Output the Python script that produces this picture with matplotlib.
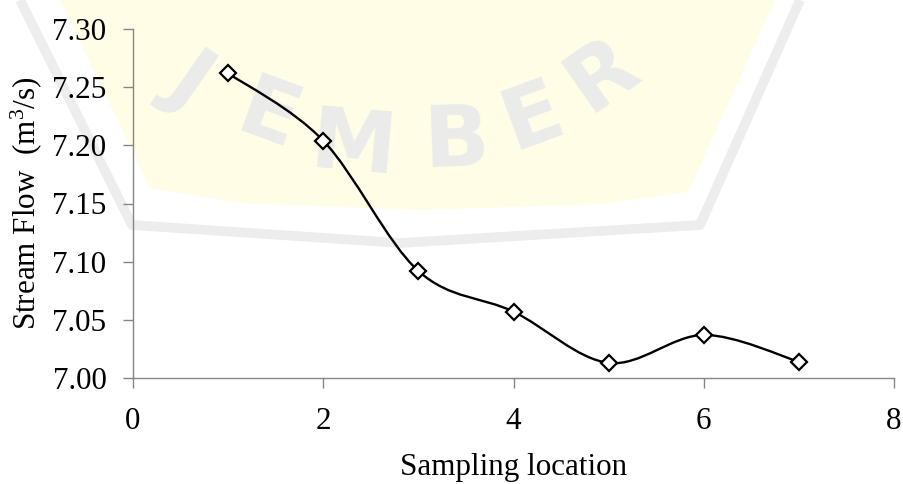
import numpy as np
import matplotlib.pyplot as plt
from matplotlib.path import Path
from matplotlib.patches import PathPatch, Polygon

location = [1, 2, 3, 4, 5, 6, 7]
flow = [7.262, 7.204, 7.092, 7.057, 7.013, 7.037, 7.014]

x_ticks = [0, 2, 4, 6, 8]
y_ticks = [7.00, 7.05, 7.10, 7.15, 7.20, 7.25, 7.30]

W, H = 904, 484
FS = 22.4
plt.rcParams['font.family'] = ['Liberation Serif', 'DejaVu Serif']
plt.rcParams['mathtext.fontset'] = 'custom'
plt.rcParams['mathtext.rm'] = 'Liberation Serif'

fig = plt.figure(figsize=(W / 100, H / 100), dpi=100)


def px(pts):
    # pixel coords (top-left origin) -> figure fraction
    return [(a / W, 1 - b / H) for a, b in pts]


# faint watermark (pale shield + letters) behind the chart
shield = [(60, 0), (775, 0), (688, 192), (600, 204), (420, 210), (240, 203), (150, 188)]
fig.patches.append(Polygon(px(shield), closed=True, transform=fig.transFigure,
                           facecolor='#fffde6', edgecolor='none', zorder=0))
band = [(20, 0), (132, 225), (400, 243), (700, 225), (800, 0)]
xs, ys = zip(*px(band))
fig.add_artist(plt.Line2D(xs, ys, transform=fig.transFigure, color='#ededed',
                          lw=7, zorder=0.1, solid_capstyle='butt'))
letters = [('J', 190, 80, -35), ('E', 268, 118, -20), ('M', 353, 147, -5),
           ('B', 456, 142, 2), ('E', 533, 118, 20), ('R', 602, 75, 35)]
for ch, lx, ly, rot in letters:
    fig.text(lx / W, 1 - ly / H, ch, fontsize=62, fontweight='bold', color='#ebebeb',
             family='DejaVu Sans', rotation=rot, ha='center', va='center',
             rotation_mode='anchor', zorder=0.2)

ax = fig.add_axes([133 / W, 1 - 378 / H, (894 - 133) / W, (378 - 29) / H])
ax.set_facecolor('none')
ax.set_zorder(2)

# smoothed line (Excel style, Catmull-Rom bezier)
pts = np.column_stack([location, flow]).astype(float)
verts = [tuple(pts[0])]
codes = [Path.MOVETO]
n = len(pts)
for i in range(n - 1):
    p0 = pts[max(i - 1, 0)]
    p1 = pts[i]
    p2 = pts[i + 1]
    p3 = pts[min(i + 2, n - 1)]
    c1 = p1 + (p2 - p0) / 6
    c2 = p2 - (p3 - p1) / 6
    verts += [tuple(c1), tuple(c2), tuple(p2)]
    codes += [Path.CURVE4] * 3
ax.add_patch(PathPatch(Path(verts, codes), facecolor='none', edgecolor='black',
                       lw=1.7, zorder=2))
ax.plot(location, flow, linestyle='none', marker='D', markersize=8,
        markerfacecolor='white', markeredgecolor='black', markeredgewidth=1.6, zorder=3)

ax.set_xlim(0, 8)
ax.set_ylim(7.00, 7.30)
ax.set_xticks(x_ticks)
ax.set_yticks(y_ticks)
ax.set_yticklabels(['%.2f' % v for v in y_ticks])
for s in ['top', 'right']:
    ax.spines[s].set_visible(False)
for s in ['left', 'bottom']:
    ax.spines[s].set_color('#868686')
    ax.spines[s].set_linewidth(1.0)
ax.tick_params(direction='out', length=7, width=1.0, color='#868686',
               labelsize=FS, pad=12, labelcolor='black')
ax.tick_params(axis='x', pad=14)

ax.set_xlabel('Sampling location', fontsize=FS, labelpad=12)
ax.set_ylabel(r'Stream Flow  $\mathregular{(m^3/s)}$', fontsize=FS, labelpad=6)

fig.savefig('out.png', dpi=100)
